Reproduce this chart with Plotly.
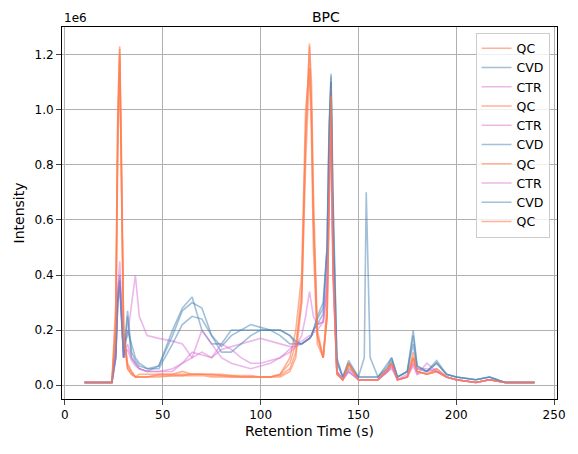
import plotly.graph_objects as go

x = [10,24,26,27,28,29,30,32,34,36,38,42,48,55,60,65,70,75,80,85,90,95,100,105,110,115,118,121,123,125,
     126,127,129,132,134,135,136,137,139,142,145,150,153,154,156,160,165,167,170,175,178,180,185,190,195,200,210,217,225,240]

names = ["QC","CVD","CTR","QC","CTR","CVD","QC","CTR","CVD","QC"]

qc1 = [0.1,0.1,3,10,12.3,8,2,0.8,0.5,0.3, 0.4,0.4,0.4,0.4,0.4,0.4,0.4,0.35,0.35,0.3, 0.3,0.3,0.3,0.3,0.3,0.5,1,3,9,12.3, 11,7,2,1,3,8,11,5,0.5,0.2, 0.8,0.2,0.2,0.2,0.2,0.2,0.6,0.8,0.2,0.3, 1,0.5,0.4,0.5,0.3,0.2,0.1,0.2,0.1,0.1]
cvd1 = [0.1,0.1,1,3,4,2.5,1,2.5,1,0.8, 0.6,0.5,0.7,2,2.8,3.2,2,1.5,1.5,2, 2,2,2,2,1.8,1.5,1.5,1.5,1.6,1.7, 1.8,2,2.5,3,5,9,11.3,7,1,0.3, 0.6,0.3,1,7,1,0.3,0.6,0.9,0.3,0.5, 1.5,0.6,0.5,0.8,0.4,0.3,0.2,0.3,0.1,0.1]
ctr1 = [0.1,0.1,1,3.5,4.5,3,1.5,1.8,3,4, 2.5,1.8,1.7,1.6,1.5,1,1.2,1,1.3,1.4, 1.5,1.6,1.7,1.6,1.5,1.4,1.4,1.5,1.6,1.7, 1.8,2,2.2,2.3,4,8,10,5,0.5,0.2, 0.5,0.2,0.2,0.2,0.2,0.2,0.5,0.7,0.2,0.3, 0.8,0.4,0.5,0.6,0.3,0.2,0.1,0.2,0.1,0.1]
qc2 = [0.1,0.1,2,9,12,7,1.8,0.7,0.5,0.3, 0.3,0.3,0.4,0.4,0.5,0.4,0.4,0.4,0.35,0.35, 0.35,0.35,0.3,0.3,0.4,1,2,4,10,11.5, 9,5,1.5,1,2.5,7,10.5,4,0.4,0.2, 0.7,0.2,0.2,0.2,0.2,0.2,0.5,0.8,0.2,0.3, 1.2,0.5,0.4,0.6,0.3,0.2,0.1,0.2,0.1,0.1]
ctr2 = [0.1,0.1,1.5,3.5,4,2.5,1,1.5,1,0.8, 0.6,0.5,0.5,0.5,0.8,1,2,1.5,1,0.8, 0.7,0.6,0.7,0.8,1,1.3,1.5,1.6,1.7,1.8, 1.8,1.9,2,2.3,3.5,7,9.5,4,0.5,0.2, 0.5,0.2,0.2,0.2,0.2,0.2,0.5,0.6,0.2,0.4, 0.8,0.6,0.6,0.5,0.3,0.2,0.1,0.2,0.1,0.1]
cvd2 = [0.1,0.1,1,3,3.5,2,1,2,1.5,1, 0.8,0.6,0.6,1.5,2.2,2.5,2.4,1.8,1.2,1.2, 1.5,1.8,2,2,2,1.8,1.5,1.5,1.6,1.7, 1.8,2,2.2,2.6,5,9.5,11,6,0.8,0.3, 0.8,0.3,0.3,0.3,0.3,0.3,0.7,1,0.3,0.5, 2,0.7,0.5,0.8,0.4,0.3,0.2,0.3,0.1,0.1]
qc3 = [0.1,0.1,2.5,9.5,12.2,7.5,2,0.6,0.4,0.3, 0.3,0.3,0.35,0.35,0.35,0.4,0.4,0.4,0.4,0.35, 0.3,0.3,0.3,0.3,0.4,0.8,1.5,3,8,11.5, 10,6,1.8,1,2.5,7.5,10.8,4.5,0.4,0.2, 0.8,0.2,0.2,0.2,0.2,0.2,0.6,0.8,0.2,0.3, 1,0.5,0.4,0.5,0.3,0.2,0.1,0.2,0.1,0.1]
ctr3 = [0.1,0.1,1.2,3,3.8,2.2,1,1.3,0.9,0.7, 0.6,0.5,0.5,0.6,0.8,1.2,1.1,1,1.5,1.3, 1,0.8,0.8,0.9,1,1.2,1.4,1.8,2.5,3.4, 3,2.5,2.2,2.3,3.5,7.5,9.8,4.5,0.5,0.2, 0.5,0.2,0.2,0.2,0.2,0.2,0.5,0.7,0.2,0.3, 0.7,0.4,0.8,0.5,0.3,0.2,0.1,0.2,0.1,0.1]
cvd3 = [0.1,0.1,1.2,3.2,3.8,2.2,1,2.7,1.2,0.9, 0.7,0.6,0.7,1.8,2.7,3,2.8,1.8,1.4,1.8, 2,2.2,2.1,2,2,1.8,1.6,1.5,1.6,1.7, 1.8,2,2.4,2.8,5,9,11.2,6.5,0.9,0.3, 0.9,0.3,0.3,0.3,0.3,0.3,0.8,1,0.3,0.5, 1.8,0.7,0.5,0.9,0.4,0.3,0.2,0.3,0.1,0.1]
qc4 = [0.1,0.1,2,8.5,11.8,7,1.8,0.6,0.4,0.3, 0.3,0.3,0.3,0.35,0.35,0.35,0.35,0.3,0.3,0.3, 0.3,0.3,0.3,0.3,0.35,0.6,1.2,3.5,9,12.4, 10,6,1.8,1,2.5,7,10.5,4.5,0.4,0.2, 0.8,0.2,0.2,0.2,0.2,0.2,0.6,0.8,0.2,0.3, 1,0.5,0.4,0.5,0.3,0.2,0.1,0.2,0.1,0.1]

series = [qc1, cvd1, ctr1, qc2, ctr2, cvd2, qc3, ctr3, cvd3, qc4]
colors = {"QC": "rgba(255,127,80,0.6)", "CVD": "rgba(70,130,180,0.5)", "CTR": "rgba(218,112,214,0.5)"}

fig = go.Figure()
for n, ys in zip(names, series):
    fig.add_trace(go.Scatter(x=x, y=[v * 1e5 for v in ys], mode="lines", name=n,
                             line=dict(color=colors[n], width=1.6)))

yt = [0, 0.2e6, 0.4e6, 0.6e6, 0.8e6, 1.0e6, 1.2e6]
fig.update_layout(
    width=578, height=454, paper_bgcolor="white", plot_bgcolor="white",
    margin=dict(l=54, r=29, t=19, b=63),
    font=dict(family="DejaVu Sans", size=12, color="black"),
    title=dict(text="BPC", x=0.55, xanchor="center", y=0.99, yanchor="top", pad=dict(t=0), font=dict(size=14)),
    showlegend=True,
    legend=dict(x=0.985, y=0.985, xanchor="right", yanchor="top", bordercolor="#ccc",
                borderwidth=1, bgcolor="rgba(255,255,255,0.8)", font=dict(size=12.5)),
    xaxis=dict(range=[-1.5, 251.5], tickvals=[0, 50, 100, 150, 200, 250], showgrid=True, automargin=False,
               gridcolor="#b0b0b0", showline=True, linecolor="black", mirror=True,
               ticks="outside", zeroline=False, title=dict(text="Retention Time (s)", standoff=4)),
    yaxis=dict(range=[-0.05e6, 1.3e6], tickvals=yt, ticktext=["0.0","0.2","0.4","0.6","0.8","1.0","1.2"],
               showgrid=True, gridcolor="#b0b0b0", showline=True, linecolor="black", mirror=True, automargin=False,
               ticks="outside", zeroline=False, title=dict(text="Intensity", standoff=6)),
    annotations=[dict(text="1e6", xref="paper", yref="paper", x=0, y=1.0, xanchor="left",
                      yanchor="bottom", showarrow=False, font=dict(size=12))],
)
fig.write_html("out.html")
